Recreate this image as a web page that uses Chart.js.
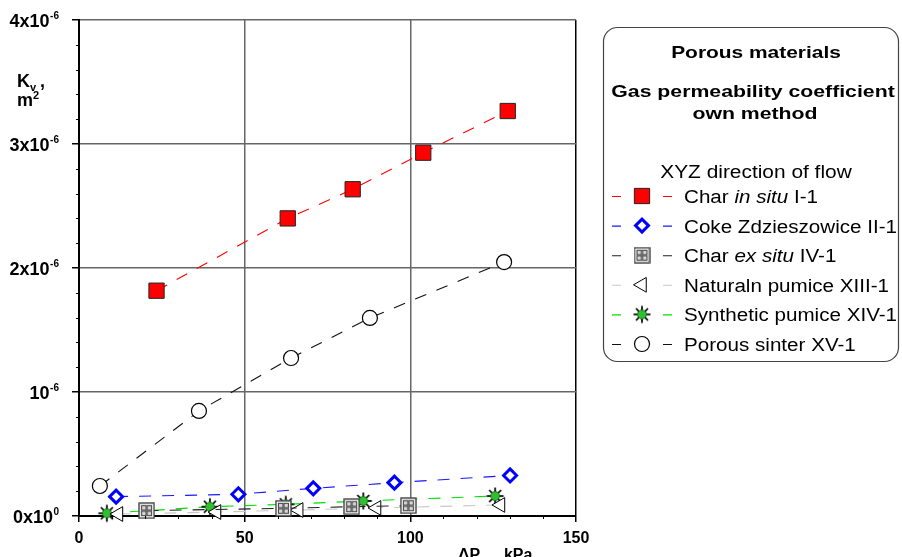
<!DOCTYPE html>
<html>
<head>
<meta charset="utf-8">
<script src="https://cdn.jsdelivr.net/npm/chart.js@4.4.1/dist/chart.umd.min.js"></script>
<style>
  html, body { margin: 0; padding: 0; background: #fff; }
  #wrap { width: 902px; height: 557px; }
</style>
</head>
<body>
<div id="wrap"><canvas id="permChart"></canvas></div>
<script>
// pressure difference dPzm in kPa, Kv in units of 10^-6 m^2
const charInSituX = [23.4, 63.0, 82.6, 103.9, 129.4];
const charInSituY = [1.817, 2.40, 2.635, 2.93, 3.266];

const cokeX = [11.2, 48.1, 70.7, 95.2, 130.1];
const cokeY = [0.156, 0.175, 0.223, 0.269, 0.327];

const charExSituX = [20.4, 61.7, 82.3, 99.4];
const charExSituY = [0.043, 0.062, 0.075, 0.083];

const naturalPumiceX = [11.9, 41.5, 66.3, 89.8, 127.2];
const naturalPumiceY = [0.016, 0.032, 0.048, 0.065, 0.089];

const syntheticPumiceX = [8.4, 39.5, 62.4, 85.8, 125.6];
const syntheticPumiceY = [0.022, 0.075, 0.094, 0.121, 0.161];

const sinterX = [6.3, 36.2, 64.0, 87.8, 128.3];
const sinterY = [0.242, 0.847, 1.274, 1.597, 2.048];

const xTickLabels = ['0', '50', '100', '150'];
const yTickBase = ['0x10', '10', '2x10', '3x10', '4x10'];
const yTickExp = ['0', '-6', '-6', '-6', '-6'];

const legendTitle = 'Porous materials';
const legendSub1 = 'Gas permeability coefficient';
const legendSub2 = 'own method';
const legendSub3 = 'XYZ direction of flow';
// [text, italic]
const seriesNames = [
  [['Char ', false], ['in situ', true], [' I-1', false]],
  [['Coke Zdzieszowice II-1', false]],
  [['Char ', false], ['ex situ', true], [' IV-1', false]],
  [['Naturaln pumice XIII-1', false]],
  [['Synthetic pumice XIV-1', false]],
  [['Porous sinter XV-1', false]]
];

const FONT = "'Liberation Sans', Arial, sans-serif";

function toPoints(xs, ys) {
  return xs.map((x, i) => ({ x: x, y: ys[i] }));
}

function makeGridSquare() {
  const c = document.createElement('canvas');
  c.width = 17; c.height = 17;
  const g = c.getContext('2d');
  g.fillStyle = '#fff';
  g.fillRect(1, 1, 15, 15);
  g.strokeStyle = '#444';
  g.lineWidth = 1.4;
  g.strokeRect(1, 1, 15, 15);
  g.lineWidth = 1.1;
  g.fillStyle = '#d8d8d8';
  [[3.5, 3.5], [9, 3.5], [3.5, 9], [9, 9]].forEach(p => {
    g.fillRect(p[0], p[1], 4.5, 4.5);
    g.strokeRect(p[0], p[1], 4.5, 4.5);
  });
  return c;
}

function makeStar() {
  const c = document.createElement('canvas');
  c.width = 20; c.height = 20;
  const g = c.getContext('2d');
  g.strokeStyle = '#000';
  g.lineWidth = 1.7;
  for (let k = 0; k < 8; k++) {
    const a = k * Math.PI / 4;
    g.beginPath();
    g.moveTo(10 + Math.cos(a) * 3, 10 + Math.sin(a) * 3);
    g.lineTo(10 + Math.cos(a) * 8.5, 10 + Math.sin(a) * 8.5);
    g.stroke();
  }
  g.beginPath();
  g.arc(10, 10, 4.5, 0, Math.PI * 2);
  g.fillStyle = '#2fbf2f';
  g.fill();
  g.lineWidth = 0.8;
  g.strokeStyle = '#116611';
  g.stroke();
  return c;
}

const gridSquare = makeGridSquare();
const star = makeStar();

const styles = [
  { line: '#ff0000', pointStyle: 'rect', radius: 10.8, rotation: 0, fill: '#ff0000', border: '#222', bw: 1 },
  { line: '#1a1aff', pointStyle: 'rectRot', radius: 6.5, rotation: 0, fill: '#fff', border: '#0000ff', bw: 3 },
  { line: '#222', pointStyle: gridSquare, radius: 8, rotation: 0, fill: '#fff', border: '#444', bw: 1 },
  { line: '#c8c8c8', pointStyle: 'triangle', radius: 8.5, rotation: -90, fill: '#fff', border: '#000', bw: 1 },
  { line: '#00e000', pointStyle: star, radius: 9, rotation: 0, fill: '#2fbf2f', border: '#000', bw: 1 },
  { line: '#111', pointStyle: 'circle', radius: 7.5, rotation: 0, fill: '#fff', border: '#000', bw: 1.2 }
];

const seriesData = [
  toPoints(charInSituX, charInSituY),
  toPoints(cokeX, cokeY),
  toPoints(charExSituX, charExSituY),
  toPoints(naturalPumiceX, naturalPumiceY),
  toPoints(syntheticPumiceX, syntheticPumiceY),
  toPoints(sinterX, sinterY)
];

const datasets = seriesData.map((pts, i) => ({
  data: pts,
  showLine: true,
  borderColor: styles[i].line,
  borderWidth: 1.1,
  borderDash: [12, 11],
  pointStyle: styles[i].pointStyle,
  pointRadius: styles[i].radius,
  pointRotation: styles[i].rotation,
  pointBackgroundColor: styles[i].fill,
  pointBorderColor: styles[i].border,
  pointBorderWidth: styles[i].bw,
  clip: false
}));

function isMajorY(v) { return Math.abs(v - Math.round(v)) < 1e-6; }

function drawSeq(ctx, parts, x, y, size, sx, bold) {
  ctx.save();
  ctx.translate(x, y);
  ctx.scale(sx, 1);
  let cx = 0;
  parts.forEach(p => {
    ctx.font = (p[1] ? 'italic ' : '') + (bold ? 'bold ' : '') + size + 'px ' + FONT;
    ctx.fillText(p[0], cx, 0);
    cx += ctx.measureText(p[0]).width;
  });
  ctx.restore();
}

function drawCentered(ctx, text, cx, y, font, sx) {
  ctx.save();
  ctx.translate(cx, y);
  ctx.scale(sx, 1);
  ctx.font = font;
  ctx.textAlign = 'center';
  ctx.fillText(text, 0, 0);
  ctx.restore();
}

const decorations = {
  id: 'decorations',
  afterDraw(chart) {
    const ctx = chart.ctx;
    const xs = chart.scales.x, ys = chart.scales.y;
    const area = chart.chartArea;
    ctx.save();
    ctx.fillStyle = '#000';
    ctx.strokeStyle = '#000';
    ctx.textBaseline = 'alphabetic';

    // minor ticks
    ctx.lineWidth = 1;
    xs.ticks.forEach(t => {
      if (t.value % 50 !== 0) {
        const px = Math.round(xs.getPixelForValue(t.value)) + 0.5;
        ctx.beginPath();
        ctx.moveTo(px, area.bottom);
        ctx.lineTo(px, area.bottom + 3);
        ctx.stroke();
      }
    });
    ys.ticks.forEach(t => {
      if (!isMajorY(t.value)) {
        const py = Math.round(ys.getPixelForValue(t.value)) + 0.5;
        ctx.beginPath();
        ctx.moveTo(area.left - 3, py);
        ctx.lineTo(area.left, py);
        ctx.stroke();
      }
    });

    // y tick labels with superscripts
    ys.ticks.forEach(t => {
      if (!isMajorY(t.value)) return;
      const i = Math.round(t.value);
      const py = ys.getPixelForValue(t.value);
      ctx.font = 'bold 10px ' + FONT;
      const ew = ctx.measureText(yTickExp[i]).width;
      ctx.textAlign = 'right';
      ctx.fillText(yTickExp[i], 59, py - 1);
      ctx.font = 'bold 18px ' + FONT;
      ctx.fillText(yTickBase[i], 59 - ew - 0.5, py + 6.5);
    });
    ctx.textAlign = 'left';

    // y axis title
    ctx.font = 'bold 18px ' + FONT;
    ctx.fillText('K', 17, 87);
    ctx.font = 'bold 11px ' + FONT;
    ctx.fillText('v', 30, 91);
    ctx.font = 'bold 18px ' + FONT;
    ctx.fillText(',', 40, 87);
    ctx.fillText('m', 17, 106);
    ctx.font = 'bold 11px ' + FONT;
    ctx.fillText('2', 33, 99);

    // x axis title
    let tx = 458;
    ctx.font = 'bold 16px ' + FONT;
    ctx.fillText('\u0394P', tx, 560);
    tx += ctx.measureText('\u0394P').width;
    ctx.font = 'bold 10px ' + FONT;
    ctx.fillText('zm', tx, 563);
    tx += ctx.measureText('zm').width + 1;
    ctx.font = 'bold 16px ' + FONT;
    ctx.fillText(', kPa', tx, 560);

    // legend box
    const bx = 603.5, by = 27.5, bw = 295, bh = 334, r = 14;
    ctx.beginPath();
    ctx.moveTo(bx + r, by);
    ctx.lineTo(bx + bw - r, by);
    ctx.arcTo(bx + bw, by, bx + bw, by + r, r);
    ctx.lineTo(bx + bw, by + bh - r);
    ctx.arcTo(bx + bw, by + bh, bx + bw - r, by + bh, r);
    ctx.lineTo(bx + r, by + bh);
    ctx.arcTo(bx, by + bh, bx, by + bh - r, r);
    ctx.lineTo(bx, by + r);
    ctx.arcTo(bx, by, bx + r, by, r);
    ctx.closePath();
    ctx.lineWidth = 1.2;
    ctx.strokeStyle = '#444';
    ctx.stroke();

    drawCentered(ctx, legendTitle, 756, 58, 'bold 17px ' + FONT, 1.23);
    drawCentered(ctx, legendSub1, 753, 97, 'bold 17px ' + FONT, 1.25);
    drawCentered(ctx, legendSub2, 755, 119, 'bold 17px ' + FONT, 1.25);
    drawCentered(ctx, legendSub3, 756, 178, '18px ' + FONT, 1.16);

    styles.forEach((s, i) => {
      const my = 196 + i * 29.6;
      ctx.strokeStyle = s.line;
      ctx.lineWidth = 1.1;
      ctx.beginPath();
      ctx.moveTo(612, my + 0.5); ctx.lineTo(621, my + 0.5);
      ctx.moveTo(663, my + 0.5); ctx.lineTo(672, my + 0.5);
      ctx.stroke();
      ctx.fillStyle = s.fill;
      ctx.strokeStyle = s.border;
      ctx.lineWidth = s.bw;
      Chart.helpers.drawPoint(ctx, {
        pointStyle: s.pointStyle, radius: s.radius, rotation: s.rotation, borderWidth: s.bw
      }, 642, my);
      ctx.fillStyle = '#000';
      drawSeq(ctx, seriesNames[i], 684, my + 7, 18, 1.145, false);
    });

    ctx.restore();
  }
};

new Chart(document.getElementById('permChart').getContext('2d'), {
  type: 'scatter',
  data: { datasets },
  plugins: [decorations],
  options: {
    responsive: true,
    maintainAspectRatio: false,
    animation: false,
    events: [],
    layout: { padding: { left: 0, top: 20, right: 326, bottom: 0 } },
    plugins: { legend: { display: false }, tooltip: { enabled: false } },
    scales: {
      x: {
        type: 'linear',
        min: 0,
        max: 150,
        afterFit: s => { s.height = 41; },
        border: { display: true, color: '#000', width: 2 },
        grid: {
          color: c => {
            if (!c.tick) return 'rgba(0,0,0,0)';
            if (c.tick.value === 150) return '#000';
            return c.tick.value % 50 === 0 ? '#666' : 'rgba(0,0,0,0)';
          },
          lineWidth: 1.5,
          tickLength: 6,
          tickWidth: 1.5,
          tickColor: c => (c.tick && c.tick.value % 50 === 0) ? '#000' : 'rgba(0,0,0,0)'
        },
        ticks: {
          stepSize: 10,
          autoSkip: false,
          maxRotation: 0,
          padding: 7,
          color: '#000',
          font: { family: FONT, size: 16, weight: 'bold' },
          callback: v => v % 50 === 0 ? xTickLabels[v / 50] : ''
        }
      },
      y: {
        type: 'linear',
        min: 0,
        max: 4,
        afterFit: s => { s.width = 79; },
        border: { display: true, color: '#000', width: 2 },
        grid: {
          color: c => (c.tick && isMajorY(c.tick.value)) ? '#666' : 'rgba(0,0,0,0)',
          lineWidth: 1.5,
          tickLength: 7,
          tickWidth: 1.5,
          tickColor: c => (c.tick && isMajorY(c.tick.value)) ? '#000' : 'rgba(0,0,0,0)'
        },
        ticks: {
          stepSize: 0.2,
          autoSkip: false,
          callback: () => ''
        }
      }
    }
  }
});
</script>
</body>
</html>
